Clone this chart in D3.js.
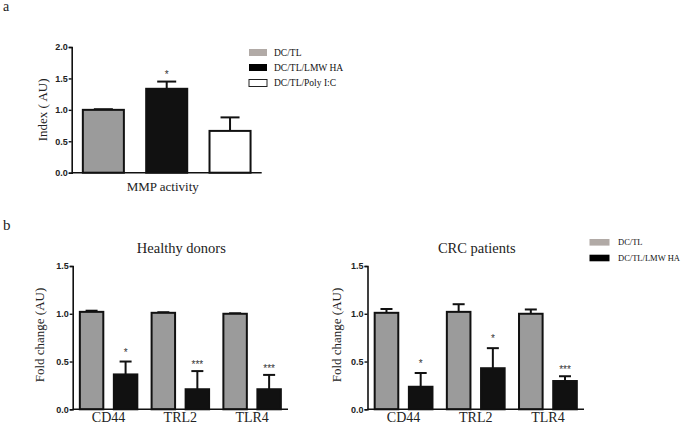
<!DOCTYPE html>
<html>
<head>
<meta charset="utf-8">
<script src="https://cdn.jsdelivr.net/npm/d3@7"></script>
<style>
  html, body { margin: 0; padding: 0; background: #fff; }
  svg { display: block; }
</style>
</head>
<body>
<svg id="chart" width="684" height="427"></svg>
<script>
// ---------- DATA ----------
// Panel a
const aSeries = ["DC/TL", "DC/TL/LMW HA", "DC/TL/Poly I:C"];
const aCategory = "MMP activity";
const aValues = [1.0, 1.335, 0.665];
const aErrors = [0.01, 0.115, 0.215];
const aStars = ["", "*", ""];
const aTicks = [0, 0.5, 1.0, 1.5, 2.0];

// Panel b
const bSeries = ["DC/TL", "DC/TL/LMW HA"];
const genes = ["CD44", "TRL2", "TLR4"];
const bTicks = [0, 0.5, 1.0, 1.5];
const hdControl = [1.02, 1.01, 1.0];
const hdControlErr = [0.012, 0.006, 0.005];
const hdLmw = [0.365, 0.21, 0.21];
const hdLmwErr = [0.135, 0.19, 0.15];
const hdStars = ["*", "***", "***"];
const crcControl = [1.01, 1.02, 1.0];
const crcControlErr = [0.04, 0.08, 0.045];
const crcLmw = [0.236, 0.43, 0.296];
const crcLmwErr = [0.144, 0.21, 0.05];
const crcStars = ["*", "*", "***"];

// ---------- STYLE ----------
const serif = "'Liberation Serif', 'Times New Roman', serif";
const sans = "'Liberation Sans', Arial, sans-serif";
const barFill = { "DC/TL": "#9b9b9b", "DC/TL/LMW HA": "#111111", "DC/TL/Poly I:C": "#ffffff" };
const legendFill = { "DC/TL": "#b1aaa6", "DC/TL/LMW HA": "#000000", "DC/TL/Poly I:C": "#ffffff" };

const svg = d3.select("#chart");

function yAxis(g, y, ticks) {
  const ax = d3.axisLeft(y).tickValues(ticks).tickFormat(d3.format(".1f")).tickSize(3).tickPadding(1);
  g.call(ax);
  g.select(".domain").attr("stroke", "#111").attr("stroke-width", 1.6);
  g.selectAll(".tick line").attr("stroke", "#111").attr("stroke-width", 1.4);
  g.selectAll(".tick text").attr("font-family", sans).attr("font-weight", "bold")
    .attr("font-size", 9).attr("fill", "#222");
}

function errBar(g, x, w, yTop, yVal, cap) {
  g.append("line").attr("x1", x).attr("x2", x).attr("y1", yVal).attr("y2", yTop)
    .attr("stroke", "#111").attr("stroke-width", 2);
  g.append("line").attr("x1", x - cap / 2).attr("x2", x + cap / 2).attr("y1", yTop).attr("y2", yTop)
    .attr("stroke", "#111").attr("stroke-width", 2);
}

// ---------- PANEL A ----------
(function () {
  const left = 71.7, right = 261.7, bottom = 172.7, top = 47;
  const y = d3.scaleLinear().domain([0, 2]).range([bottom, top]);
  const x = d3.scaleBand().domain(aSeries).range([left, right]).paddingInner(0.352).paddingOuter(0.176);
  const g = svg.append("g");

  aSeries.forEach((s, i) => {
    const cx = x(s) + x.bandwidth() / 2;
    errBar(g, cx, x.bandwidth(), y(aValues[i] + aErrors[i]), y(aValues[i]), 19);
  });
  g.selectAll("rect.bar").data(aSeries).join("rect").attr("class", "bar")
    .attr("x", d => x(d)).attr("width", x.bandwidth())
    .attr("y", (d, i) => y(aValues[i])).attr("height", (d, i) => bottom - y(aValues[i]))
    .attr("fill", d => barFill[d]).attr("stroke", "#111").attr("stroke-width", 2);
  aSeries.forEach((s, i) => {
    if (aStars[i]) g.append("text").attr("x", x(s) + x.bandwidth() / 2).attr("y", y(aValues[i] + aErrors[i]) - 4)
      .attr("text-anchor", "middle").attr("font-family", sans).attr("font-size", 10).attr("fill", "#333").text(aStars[i]);
  });

  g.append("line").attr("x1", left).attr("x2", right).attr("y1", bottom).attr("y2", bottom)
    .attr("stroke", "#111").attr("stroke-width", 1.6);
  yAxis(g.append("g").attr("transform", `translate(${left},0)`), y, aTicks);

  g.append("text").attr("x", (left + right) / 2 - 4).attr("y", 191).attr("text-anchor", "middle")
    .attr("font-family", serif).attr("font-size", 13).attr("fill", "#222").text(aCategory);
  g.append("text").attr("transform", `translate(47,${(top + bottom) / 2}) rotate(-90)`)
    .attr("text-anchor", "middle").attr("font-family", serif).attr("font-size", 13).attr("fill", "#222")
    .text("Index ( AU)");

  // legend
  const lg = g.append("g");
  const ly = [52.5, 67.5, 83];
  aSeries.forEach((s, i) => {
    lg.append("rect").attr("x", 249).attr("y", ly[i] - 3.5).attr("width", 18).attr("height", 7)
      .attr("fill", legendFill[s]).attr("stroke", s === "DC/TL/Poly I:C" ? "#222" : "none").attr("stroke-width", 1);
    lg.append("text").attr("x", 274).attr("y", ly[i] + 3).attr("font-family", serif).attr("font-size", 9.5)
      .attr("fill", "#111").text(s);
  });

  svg.append("text").attr("x", 3).attr("y", 11).attr("font-family", serif).attr("font-size", 14)
    .attr("fill", "#222").text("a");
})();

// ---------- PANEL B ----------
function drawB(cfg) {
  const { left, right, title, ctrl, ctrlErr, lmw, lmwErr, stars, ylabX } = cfg;
  const bottom = 409.3, top = 266;
  const y = d3.scaleLinear().domain([0, 1.5]).range([bottom, top]);
  const x0 = d3.scaleBand().domain(genes).range([left, right]);
  const x1 = d3.scaleBand().domain(bSeries).range([0, x0.bandwidth()]).paddingInner(0.31).paddingOuter(0.21);
  const g = svg.append("g");
  const vals = { "DC/TL": ctrl, "DC/TL/LMW HA": lmw };
  const errs = { "DC/TL": ctrlErr, "DC/TL/LMW HA": lmwErr };

  const cells = [];
  genes.forEach((gn, i) => bSeries.forEach(s => cells.push({ gene: gn, s, i, v: vals[s][i], e: errs[s][i] })));

  cells.forEach(c => {
    const cx = x0(c.gene) + x1(c.s) + x1.bandwidth() / 2;
    errBar(g, cx, x1.bandwidth(), y(c.v + c.e), y(c.v), 12);
  });
  g.selectAll("rect.bar").data(cells).join("rect").attr("class", "bar")
    .attr("x", d => x0(d.gene) + x1(d.s)).attr("width", x1.bandwidth())
    .attr("y", d => y(d.v)).attr("height", d => bottom - y(d.v))
    .attr("fill", d => barFill[d.s]).attr("stroke", "#111").attr("stroke-width", 2);

  genes.forEach((gn, i) => {
    const cx = x0(gn) + x1("DC/TL/LMW HA") + x1.bandwidth() / 2;
    g.append("text").attr("x", cx).attr("y", y(lmw[i] + lmwErr[i]) - (stars[i] === "*" ? 6 : 3))
      .attr("text-anchor", "middle").attr("font-family", sans).attr("font-size", 10).attr("fill", "#333")
      .text(stars[i]);
  });

  g.append("line").attr("x1", left).attr("x2", right).attr("y1", bottom).attr("y2", bottom)
    .attr("stroke", "#111").attr("stroke-width", 1.6);
  yAxis(g.append("g").attr("transform", `translate(${left},0)`), y, bTicks);

  genes.forEach(gn => {
    g.append("text").attr("x", x0(gn) + x0.bandwidth() / 2).attr("y", 421.5).attr("text-anchor", "middle")
      .attr("font-family", serif).attr("font-size", 14).attr("fill", "#222").text(gn);
  });
  g.append("text").attr("x", (left + right) / 2 + 1).attr("y", 253).attr("text-anchor", "middle")
    .attr("font-family", serif).attr("font-size", 14.5).attr("fill", "#222").text(title);
  g.append("text").attr("transform", `translate(${ylabX},335) rotate(-90)`)
    .attr("text-anchor", "middle").attr("font-family", serif).attr("font-size", 13).attr("fill", "#222")
    .text("Fold change (AU)");
}

drawB({ left: 72.7, right: 288, title: "Healthy donors", ctrl: hdControl, ctrlErr: hdControlErr,
        lmw: hdLmw, lmwErr: hdLmwErr, stars: hdStars, ylabX: 44 });
drawB({ left: 367.5, right: 584, title: "CRC patients", ctrl: crcControl, ctrlErr: crcControlErr,
        lmw: crcLmw, lmwErr: crcLmwErr, stars: crcStars, ylabX: 341 });

// legend b
(function () {
  const ly = [242.3, 258];
  bSeries.forEach((s, i) => {
    svg.append("rect").attr("x", 589.5).attr("y", ly[i] - 3.3).attr("width", 20).attr("height", 6.6)
      .attr("fill", legendFill[s]);
    svg.append("text").attr("x", 618).attr("y", ly[i] + 3).attr("font-family", serif).attr("font-size", 8.5)
      .attr("fill", "#111").text(s);
  });
  svg.append("text").attr("x", 3).attr("y", 230).attr("font-family", serif).attr("font-size", 15)
    .attr("fill", "#222").text("b");
})();
</script>
</body>
</html>
